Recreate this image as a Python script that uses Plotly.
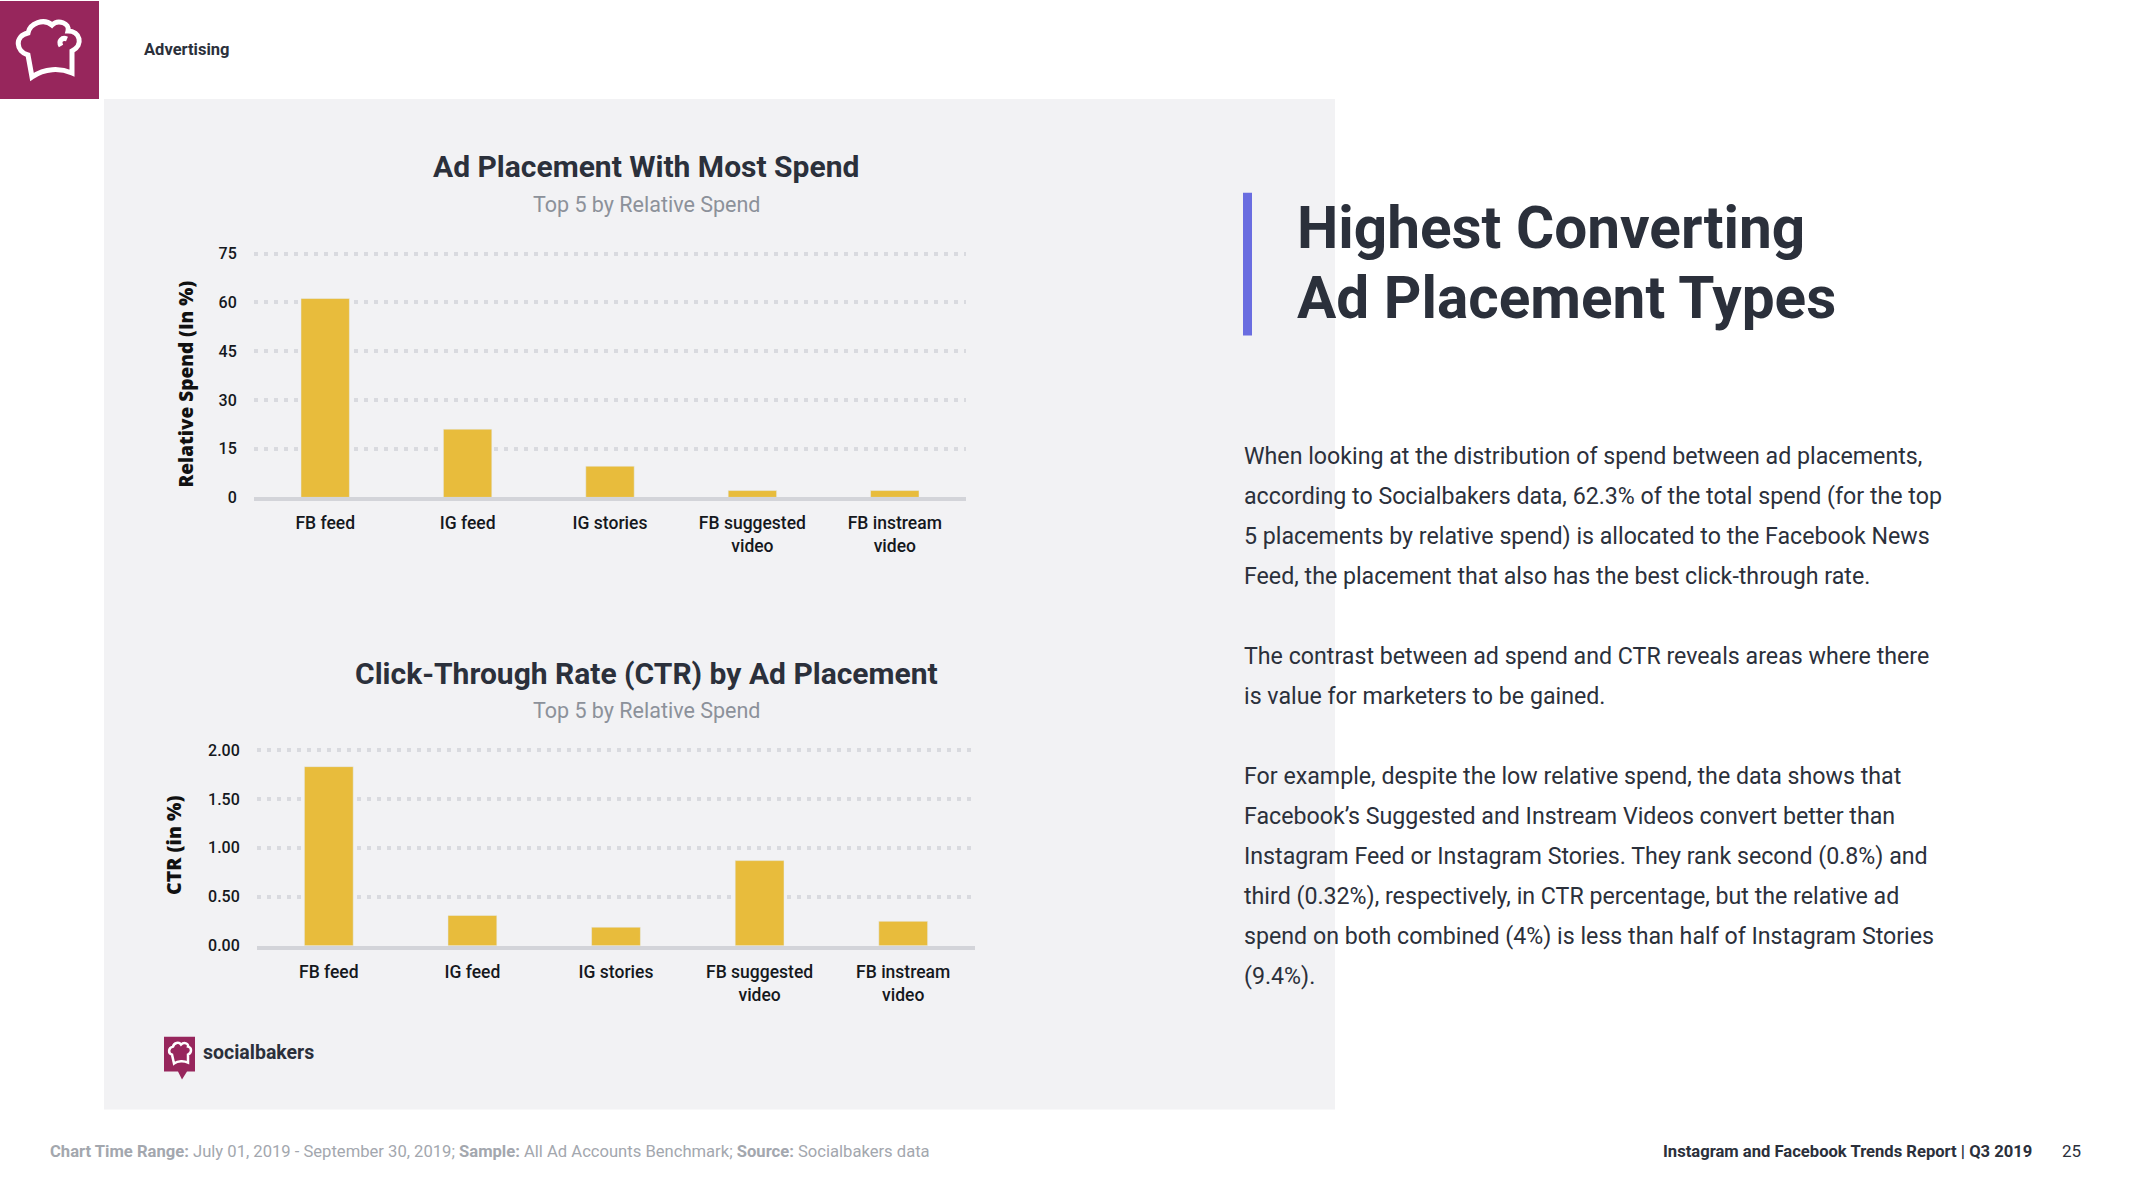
import plotly.graph_objects as go

W, H = 2133, 1200

# ---------------- data ----------------
placements = ["FB feed", "IG feed", "IG stories", "FB suggested<br>video", "FB instream<br>video"]
relative_spend = [61.2, 21.0, 9.6, 2.1, 2.1]
ctr = [1.83, 0.31, 0.19, 0.87, 0.25]
spend_ticks = [0, 15, 30, 45, 60, 75]
ctr_ticks = [0.0, 0.5, 1.0, 1.5, 2.0]
ctr_tick_labels = ["0.00", "0.50", "1.00", "1.50", "2.00"]

chart1_title = "Ad Placement With Most Spend"
chart2_title = "Click-Through Rate (CTR) by Ad Placement"
subtitle = "Top 5 by Relative Spend"
heading_lines = ["Highest Converting", "Ad Placement Types"]
body_lines = [
    "When looking at the distribution of spend between ad placements,",
    "according to Socialbakers data, 62.3% of the total spend (for the top",
    "5 placements by relative spend) is allocated to the Facebook News",
    "Feed, the placement that also has the best click-through rate.",
    "",
    "The contrast between ad spend and CTR reveals areas where there",
    "is value for marketers to be gained.",
    "",
    "For example, despite the low relative spend, the data shows that",
    "Facebook\u2019s Suggested and Instream Videos convert better than",
    "Instagram Feed or Instagram Stories. They rank second (0.8%) and",
    "third (0.32%), respectively, in CTR percentage, but the relative ad",
    "spend on both combined (4%) is less than half of Instagram Stories",
    "(9.4%).",
]

# ---------------- style ----------------
DARK = "#2b303b"
GREY_TXT = "#8c919a"
BAR = "#e8bc3c"
PANEL = "#f2f2f4"
MAGENTA = "#97265c"
GRID = "#d9dadf"
TICK = "#15181d"
FONT = "Roboto"

SHIFT = 5.5  # px the plot div is moved up in the page


def Y(t):
    # vertical placement correction for the capture
    return (t - 5.4) / 0.988 + SHIFT


def px_x(x):
    return x / W


def px_y(y):
    return 1 - Y(y) / H


def path(segments):
    out = []
    for cmd, pts in segments:
        coords = ", ".join("%.2f %.2f" % (x, Y(y)) for x, y in pts)
        out.append((cmd + " " + coords).strip())
    return " ".join(out)


fig = go.Figure()

# invisible pixel-frame subplot (drawn first so it stays underneath)
fig.add_trace(go.Scatter(x=[None], y=[None], xaxis="x", yaxis="y", showlegend=False,
                         hoverinfo="skip"))
fig.add_trace(go.Bar(x=placements, y=relative_spend, marker_color=BAR, width=0.34,
                     xaxis="x2", yaxis="y2", hoverinfo="skip", showlegend=False))
fig.add_trace(go.Bar(x=placements, y=ctr, marker_color=BAR, width=0.34,
                     xaxis="x3", yaxis="y3", hoverinfo="skip", showlegend=False))

common_x = dict(type="category", showgrid=False, showline=True, linecolor="#d3d4d9", linewidth=4,
                ticks="outside", ticklen=7, tickcolor="rgba(0,0,0,0)",
                tickfont=dict(family=FONT, size=17.5, color=TICK, weight=500),
                range=[-0.5, 4.5], fixedrange=True)
common_y = dict(showgrid=True, gridcolor=GRID, gridwidth=3.5, griddash="4px,6px",
                zeroline=False, showline=False, ticks="outside", ticklen=13,
                tickcolor="rgba(0,0,0,0)",
                tickfont=dict(family=FONT, size=16, color=TICK, weight=500),
                fixedrange=True)

# chart 1: 0 at y=497px, 75 at y=253px ; chart 2: 0 at 946px, 2.0 at 750px
b1, t1 = 497, 253
b2, t2 = 946, 750
top1 = 76.0
top2 = 2.03
s1 = (b1 - t1) / 75.0
s2 = (b2 - t2) / 2.0

fig.update_layout(
    width=W, height=H,
    margin=dict(l=0, r=0, t=0, b=0),
    paper_bgcolor="white", plot_bgcolor="rgba(0,0,0,0)",
    xaxis=dict(domain=[0, 1], range=[0, W], visible=False, anchor="y", fixedrange=True),
    yaxis=dict(domain=[0, 1], range=[H, 0], visible=False, anchor="x", fixedrange=True),
    xaxis2=dict(common_x, domain=[px_x(254), px_x(966)], anchor="y2"),
    yaxis2=dict(common_y, domain=[px_y(b1), px_y(b1 - top1 * s1)], range=[0, top1],
                tickvals=spend_ticks, anchor="x2"),
    xaxis3=dict(common_x, domain=[px_x(257), px_x(975)], anchor="y3"),
    yaxis3=dict(common_y, domain=[px_y(b2), px_y(b2 - top2 * s2)], range=[0, top2],
                tickvals=ctr_ticks, ticktext=ctr_tick_labels, anchor="x3"),
)

shapes = []
# grey panel behind charts
shapes.append(dict(type="rect", xref="x", yref="y", x0=104, x1=1335, y0=Y(98), y1=Y(1110),
                   fillcolor=PANEL, line_width=0, layer="below"))
# magenta square top-left
shapes.append(dict(type="rect", xref="x", yref="y", x0=0, x1=99, y0=-20, y1=Y(98),
                   fillcolor=MAGENTA, line_width=0, layer="below"))
# chef hat icon
hat = path([("M", [(32, 76)]), ("L", [(28, 54)]),
            ("C", [(16, 51), (14, 35), (28, 32)]),
            ("C", [(30, 22), (44, 17), (52, 24)]),
            ("C", [(58, 18), (70, 22), (68, 30)]),
            ("C", [(80, 30), (84, 44), (72, 50)]),
            ("L", [(72, 72)]),
            ("C", [(60, 67), (45, 67), (32, 76)]), ("Z", [])])
shapes.append(dict(type="path", xref="x", yref="y", path=hat,
                   line=dict(color="white", width=5), fillcolor="rgba(0,0,0,0)"))
curl = path([("M", [(61, 45)]), ("C", [(58, 40), (62, 36), (67, 38)])])
shapes.append(dict(type="path", xref="x", yref="y", path=curl,
                   line=dict(color="white", width=5)))
# purple accent bar
shapes.append(dict(type="rect", xref="x", yref="y", x0=1243, x1=1252, y0=Y(192), y1=Y(335),
                   fillcolor="#6a6de0", line_width=0))
# socialbakers logo
bubble = path([("M", [(164, 1037)]), ("L", [(195, 1037)]), ("L", [(195, 1072)]),
               ("L", [(187, 1072)]), ("L", [(182, 1080)]), ("L", [(178, 1072)]),
               ("L", [(164, 1072)]), ("Z", [])])
shapes.append(dict(type="path", xref="x", yref="y", path=bubble,
                   fillcolor=MAGENTA, line_width=0))
small_hat = path([("M", [(174, 1064)]), ("L", [(172, 1055)]),
                  ("C", [(168, 1054), (168, 1048), (173, 1047)]),
                  ("C", [(174, 1043), (179, 1042), (181, 1045)]),
                  ("C", [(184, 1042), (189, 1044), (188, 1047)]),
                  ("C", [(192, 1048), (192, 1053), (188, 1055)]),
                  ("L", [(188, 1063)]),
                  ("C", [(184, 1061), (178, 1061), (174, 1064)]), ("Z", [])])
shapes.append(dict(type="path", xref="x", yref="y", path=small_hat,
                   line=dict(color="white", width=2.5)))
fig.update_layout(shapes=shapes)

ann = []


def text(x, y, s, size, color=DARK, xanchor="left", weight="normal", family=FONT, angle=0):
    ann.append(dict(xref="x", yref="y", x=x, y=Y(y), text=s, showarrow=False,
                    xanchor=xanchor, yanchor="middle", textangle=angle,
                    font=dict(family=family, size=size, color=color, weight=weight)))


text(142, 49, "<b>Advertising</b>", 16.5, color=DARK)

# chart titles
text(646, 166, "<b>" + chart1_title + "</b>", 30, xanchor="center")
text(646, 204, subtitle, 21.5, color=GREY_TXT, xanchor="center")
text(646, 673, "<b>" + chart2_title + "</b>", 30, xanchor="center")
text(646, 710, subtitle, 21.5, color=GREY_TXT, xanchor="center")

# axis titles
text(186, 384, "Relative Spend (In %)", 19, color="#111", xanchor="center",
     family="Open Sans", weight=800, angle=-90)
text(174, 846, "CTR (in %)", 19.5, color="#111", xanchor="center",
     family="Open Sans", weight=800, angle=-90)

# heading
for i, line in enumerate(heading_lines):
    text(1295, 227 + i * 70, "<b>" + line + "</b>", 58.5, color=DARK)

# body paragraph
for i, line in enumerate(body_lines):
    if line:
        text(1242, 456 + i * 40.0, line, 23.2, color=DARK)

# footers
text(48, 1152, "<b>Chart Time Range:</b> July 01, 2019 - September 30, 2019; <b>Sample:</b> "
     "All Ad Accounts Benchmark; <b>Source:</b> Socialbakers data", 16.6, color="#a3a7ae")
text(2034, 1152, "<b>Instagram and Facebook Trends Report | Q3 2019</b>", 16.6, color=DARK,
     xanchor="right")
text(2083, 1152, "25", 17, color=DARK, xanchor="right")
text(201, 1053, "<b>socialbakers</b>", 19.5, color=DARK)

fig.update_layout(annotations=ann)

post = ("var d=document.getElementById('{plot_id}');"
        "d.style.position='fixed';d.style.top='-%spx';d.style.left='0px';"
        "document.body.style.margin='0';document.documentElement.style.overflow='hidden';"
        % SHIFT)

fig.write_html("out.html", config={"displayModeBar": False}, post_script=post)
